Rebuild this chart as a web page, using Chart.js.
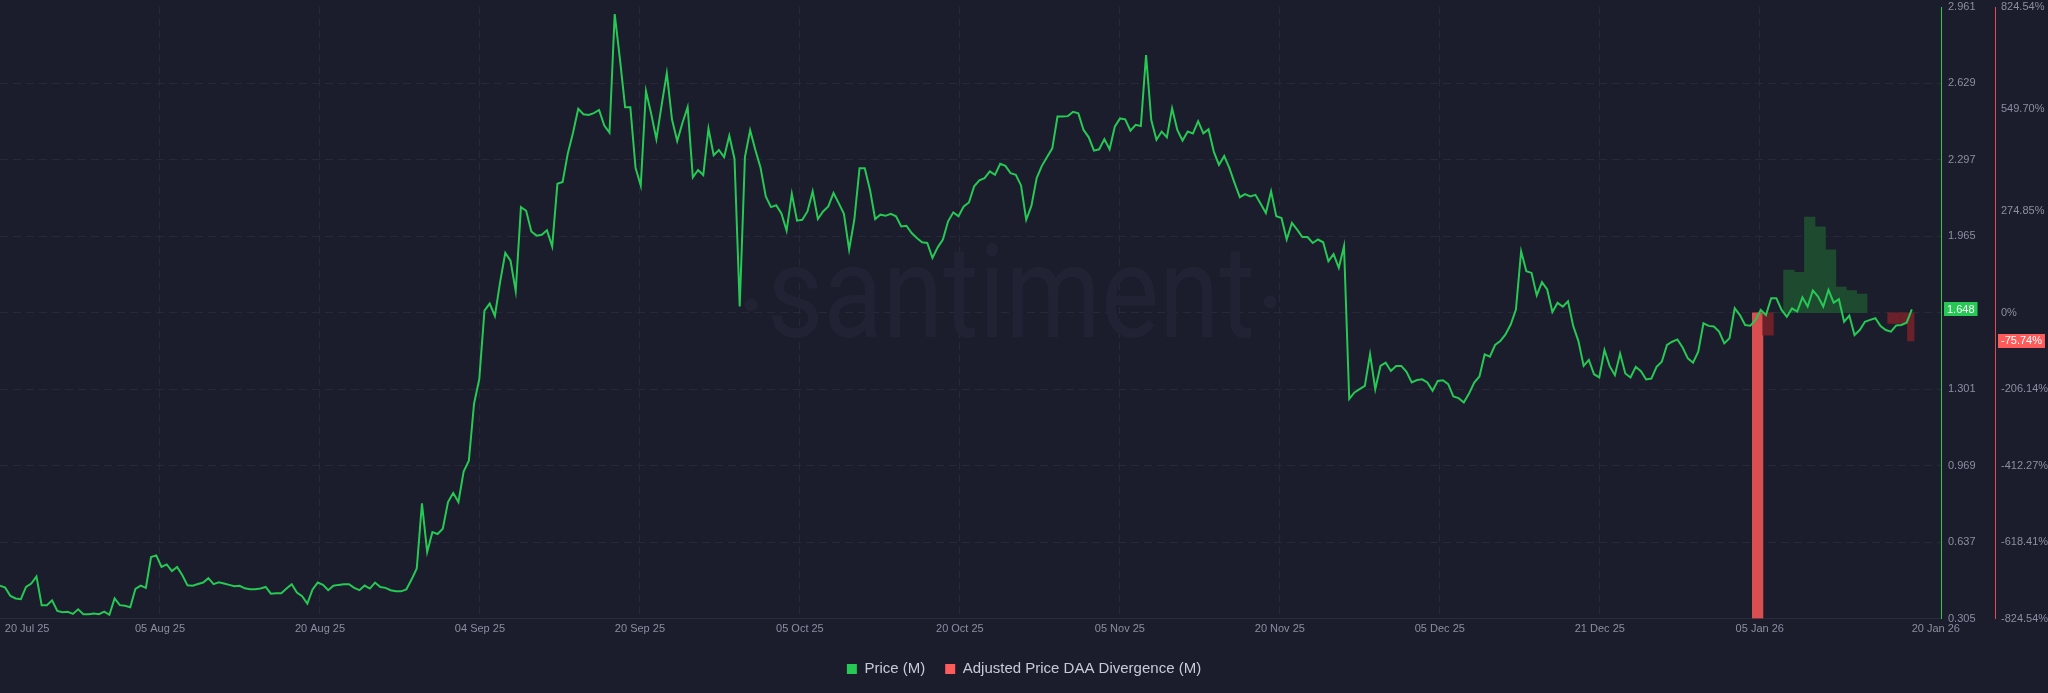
<!DOCTYPE html>
<html>
<head>
<meta charset="utf-8">
<script src="https://cdn.jsdelivr.net/npm/chart.js@4/dist/chart.umd.min.js"></script>
<style>
  html, body { margin: 0; padding: 0; background: #1b1c2c; }
  #wrap { width: 2048px; height: 693px; }
</style>
</head>
<body>
<div id="wrap"><canvas id="chart" width="2048" height="693"></canvas></div>
<script>
// Price (M), sampled every half day from the left edge of the chart
var priceStepDays = 0.5;
var priceValues = [
  0.447, 0.439, 0.403, 0.392, 0.389, 0.442, 0.457, 0.488, 0.363, 0.363,
  0.384, 0.338, 0.332, 0.334, 0.325, 0.345, 0.324, 0.324, 0.327, 0.324,
  0.335, 0.321, 0.392, 0.363, 0.360, 0.354, 0.434, 0.448, 0.438, 0.572,
  0.579, 0.529, 0.540, 0.511, 0.529, 0.493, 0.449, 0.447, 0.455, 0.461,
  0.480, 0.454, 0.462, 0.457, 0.451, 0.445, 0.447, 0.436, 0.432, 0.432,
  0.435, 0.442, 0.413, 0.415, 0.415, 0.435, 0.454, 0.418, 0.402, 0.370,
  0.431, 0.461, 0.451, 0.428, 0.447, 0.451, 0.454, 0.454, 0.438, 0.428,
  0.448, 0.435, 0.461, 0.442, 0.438, 0.428, 0.423, 0.423, 0.431, 0.474,
  0.522, 0.805, 0.594, 0.680, 0.672, 0.695, 0.811, 0.850, 0.811, 0.943,
  0.990, 1.238, 1.344, 1.642, 1.673, 1.619, 1.766, 1.893, 1.859, 1.727,
  2.092, 2.076, 1.986, 1.968, 1.972, 1.991, 1.921, 2.193, 2.201, 2.325,
  2.415, 2.519, 2.495, 2.492, 2.500, 2.514, 2.446, 2.415, 2.930, 2.736,
  2.526, 2.526, 2.263, 2.185, 2.596, 2.498, 2.387, 2.534, 2.674, 2.472,
  2.379, 2.457, 2.526, 2.221, 2.253, 2.231, 2.433, 2.317, 2.340, 2.309,
  2.402, 2.301, 1.660, 2.309, 2.426, 2.340, 2.263, 2.138, 2.092, 2.100,
  2.064, 1.990, 2.150, 2.033, 2.037, 2.073, 2.160, 2.040, 2.073, 2.095,
  2.153, 2.109, 2.063, 1.907, 2.037, 2.261, 2.261, 2.167, 2.040, 2.059,
  2.054, 2.063, 2.052, 2.008, 2.011, 1.979, 1.958, 1.939, 1.936, 1.871,
  1.917, 1.951, 2.030, 2.069, 2.052, 2.095, 2.112, 2.182, 2.208, 2.218,
  2.247, 2.232, 2.280, 2.271, 2.239, 2.232, 2.186, 2.037, 2.098, 2.218,
  2.271, 2.309, 2.347, 2.485, 2.485, 2.487, 2.506, 2.499, 2.427, 2.395,
  2.337, 2.343, 2.387, 2.343, 2.441, 2.477, 2.473, 2.424, 2.449, 2.444,
  2.752, 2.470, 2.384, 2.420, 2.395, 2.521, 2.427, 2.381, 2.420, 2.412,
  2.465, 2.412, 2.430, 2.333, 2.275, 2.314, 2.261, 2.196, 2.135, 2.148,
  2.138, 2.145, 2.106, 2.066, 2.160, 2.052, 2.044, 1.951, 2.023, 1.994,
  1.962, 1.962, 1.936, 1.951, 1.939, 1.857, 1.888, 1.828, 1.922, 1.258,
  1.287, 1.301, 1.315, 1.453, 1.301, 1.402, 1.416, 1.380, 1.402, 1.402,
  1.376, 1.330, 1.341, 1.344, 1.330, 1.294, 1.337, 1.340, 1.323, 1.269,
  1.262, 1.243, 1.282, 1.330, 1.356, 1.452, 1.442, 1.493, 1.510, 1.539,
  1.582, 1.647, 1.900, 1.813, 1.806, 1.708, 1.766, 1.734, 1.636, 1.676,
  1.659, 1.683, 1.575, 1.510, 1.402, 1.428, 1.366, 1.352, 1.471, 1.401,
  1.362, 1.456, 1.369, 1.352, 1.398, 1.379, 1.343, 1.347, 1.398, 1.420,
  1.493, 1.507, 1.517, 1.482, 1.435, 1.416, 1.464, 1.587, 1.576, 1.573,
  1.551, 1.500, 1.522, 1.653, 1.623, 1.580, 1.577, 1.602, 1.645, 1.623,
  1.696, 1.696, 1.645, 1.616, 1.652, 1.638, 1.700, 1.660, 1.730, 1.703,
  1.660, 1.732, 1.677, 1.692, 1.594, 1.621, 1.536, 1.558, 1.594, 1.602,
  1.609, 1.575, 1.558, 1.551, 1.578, 1.580, 1.590, 1.648
];

// Adjusted Price DAA Divergence (M), in %, daily bars
var divergenceDays = [168.7, 169.7, 170.7, 171.7, 172.7, 173.7, 174.7, 175.7, 176.7, 177.7, 178.7];
var divergenceValues = [-824.54, -60.4, 0, 115.3, 109.0, 257.7, 231.6, 169.4, 69.4, 59.5, 50.5];
// the last few bars come in tighter
var divergenceLateDays = [181.5, 182.1, 182.75, 183.4];
var divergenceLateValues = [-28.8, -28.5, -28.8, -75.74];

var xTickLabels = ['20 Jul 25', '05 Aug 25', '20 Aug 25', '04 Sep 25', '20 Sep 25', '05 Oct 25',
  '20 Oct 25', '05 Nov 25', '20 Nov 25', '05 Dec 25', '21 Dec 25', '05 Jan 26', '20 Jan 26'];
var priceTicks = [0.305, 0.637, 0.969, 1.301, 1.633, 1.965, 2.297, 2.629, 2.961];
var divergenceTicks = [-824.54, -618.41, -412.27, -206.14, 0, 274.85, 549.70, 824.54];

var BG = '#1b1c2c';
var GRID = '#272939';
var TICK = '#8b8fa1';
var GREEN = '#26c953';
var RED = '#ff5b5b';
var FONT = "'Liberation Sans', Arial, sans-serif";

var lastPrice = priceValues[priceValues.length - 1];
var lastDivergence = divergenceLateValues[divergenceLateValues.length - 1];

var xTickStep = 15.355;
var xMax = 186.3;

function barColor(ctx) {
    var v = ctx.raw ? ctx.raw.y : 0;
    if (v < -500) return '#d94f4f';
    if (v < 0) return '#6c2029';
    return '#1e4b2f';
}

// background + watermark
var backdrop = {
    id: 'backdrop',
    beforeDraw: function(chart) {
        var ctx = chart.ctx;
        ctx.save();
        ctx.fillStyle = BG;
        ctx.fillRect(0, 0, chart.width, chart.height);
        ctx.restore();
    },
    beforeDatasetsDraw: function(chart) {
        var ctx = chart.ctx;
        ctx.save();
        ctx.fillStyle = '#212335';
        ctx.font = "400 130px Roboto";
        ctx.textBaseline = 'alphabetic';
        var w = ctx.measureText('santiment').width;
        ctx.translate(767, 337);
        ctx.scale(488 / w, 1);
        ctx.fillText('santiment', 0, 0);
        ctx.setTransform(1, 0, 0, 1, 0, 0);
        ctx.beginPath();
        ctx.arc(751, 305, 6.5, 0, Math.PI * 2);
        ctx.arc(1270, 302, 6.5, 0, Math.PI * 2);
        ctx.fill();
        ctx.restore();
    }
};

// last value badges on the axes
function drawBadge(ctx, x, y, text, color) {
    ctx.font = '11px ' + FONT;
    var w = ctx.measureText(text).width + 6;
    ctx.fillStyle = color;
    ctx.fillRect(x, Math.round(y - 7), w, 14);
    ctx.fillStyle = '#ffffff';
    ctx.textBaseline = 'middle';
    ctx.textAlign = 'left';
    ctx.fillText(text, x + 3, y + 0.5);
}

var badges = {
    id: 'badges',
    afterDraw: function(chart) {
        var ctx = chart.ctx;
        var y = chart.scales.y, y2 = chart.scales.y2;
        ctx.save();
        drawBadge(ctx, y.left + 3, y.getPixelForValue(lastPrice), lastPrice.toFixed(3), GREEN);
        drawBadge(ctx, y2.left + 3, y2.getPixelForValue(lastDivergence), lastDivergence.toFixed(2) + '%', RED);
        ctx.restore();
    }
};

// keep the plot flush with the top: only half a label of room
function fitRightAxis(width) {
    return function(scale) {
        scale.width = width;
        scale.paddingTop = 7;
        scale.paddingBottom = 7;
    };
}

var ctx = document.getElementById('chart').getContext('2d');
var chart = new Chart(ctx, {
    type: 'line',
    data: {
        datasets: [{
            label: 'Price (M)',
            data: priceValues.map(function(v, i) { return { x: i * priceStepDays, y: v }; }),
            borderColor: GREEN,
            backgroundColor: GREEN,
            borderWidth: 2,
            pointRadius: 0,
            tension: 0,
            yAxisID: 'y',
            order: 0
        }, {
            type: 'bar',
            label: 'Adjusted Price DAA Divergence (M)',
            data: divergenceDays.map(function(d, i) { return { x: d, y: divergenceValues[i] }; }),
            backgroundColor: barColor,
            legendColor: RED,
            barThickness: 10.6,
            grouped: false,
            yAxisID: 'y2',
            order: 1
        }, {
            type: 'bar',
            label: 'late',
            data: divergenceLateDays.map(function(d, i) { return { x: d, y: divergenceLateValues[i] }; }),
            backgroundColor: barColor,
            barThickness: 6.6,
            grouped: false,
            yAxisID: 'y2',
            order: 2
        }]
    },
    options: {
        responsive: false,
        animation: false,
        devicePixelRatio: 1,
        layout: { padding: { top: 0, left: 0, right: 0, bottom: 6.5 } },
        plugins: {
            tooltip: { enabled: false },
            legend: {
                position: 'bottom',
                labels: {
                    color: '#c8cbd5',
                    font: { family: FONT, size: 15 },
                    boxWidth: 10,
                    boxHeight: 10,
                    padding: 20,
                    filter: function(item) { return item.text !== 'late'; },
                    generateLabels: function(chart) {
                        var items = Chart.defaults.plugins.legend.labels.generateLabels(chart);
                        items.forEach(function(it) {
                            var ds = chart.data.datasets[it.datasetIndex];
                            if (ds.legendColor) it.fillStyle = ds.legendColor;
                            it.lineWidth = 0;
                            it.strokeStyle = 'transparent';
                        });
                        return items;
                    }
                }
            }
        },
        scales: {
            x: {
                type: 'linear',
                min: 0,
                max: xMax,
                offset: false,
                afterBuildTicks: function(scale) {
                    scale.ticks = xTickLabels.map(function(_, k) {
                        var v = k * xTickStep;
                        if (k === 0) v = 2.6;
                        if (k === xTickLabels.length - 1) v = 185.8;
                        return { value: v };
                    });
                },
                afterFit: function(scale) { scale.height = 23; },
                ticks: {
                    autoSkip: false,
                    maxRotation: 0,
                    padding: 4,
                    color: TICK,
                    font: { family: FONT, size: 11 },
                    callback: function(v, i) { return xTickLabels[i]; }
                },
                grid: {
                    offset: false,
                    drawTicks: false,
                    color: function(c) {
                        return (c.index === 0 || c.index === xTickLabels.length - 1) ? 'transparent' : GRID;
                    }
                },
                border: { color: '#2a2c3e', dash: [7, 5] }
            },
            y: {
                position: 'right',
                weight: 0,
                min: priceTicks[0],
                max: priceTicks[priceTicks.length - 1],
                afterBuildTicks: function(scale) {
                    scale.ticks = priceTicks.map(function(v) { return { value: v }; });
                },
                afterFit: fitRightAxis(54),
                ticks: {
                    padding: 7,
                    color: TICK,
                    font: { family: FONT, size: 11 },
                    callback: function(v) {
                        return Math.abs(v - lastPrice) < 0.04 ? '' : v.toFixed(3);
                    }
                },
                grid: {
                    drawTicks: false,
                    color: function(c) {
                        return (c.index === 0 || c.index === priceTicks.length - 1) ? 'transparent' : GRID;
                    }
                },
                border: { color: GREEN, width: 1, dash: [8, 5] }
            },
            y2: {
                position: 'right',
                weight: 1,
                min: divergenceTicks[0],
                max: divergenceTicks[divergenceTicks.length - 1],
                afterBuildTicks: function(scale) {
                    scale.ticks = divergenceTicks.map(function(v) { return { value: v }; });
                },
                afterFit: fitRightAxis(53),
                ticks: {
                    padding: 6,
                    color: TICK,
                    font: { family: FONT, size: 11 },
                    callback: function(v) { return v === 0 ? '0%' : v.toFixed(2) + '%'; }
                },
                grid: { display: false, drawTicks: false },
                border: { color: '#e04b4b', width: 1 }
            }
        }
    },
    plugins: [backdrop, badges]
});
</script>
</body>
</html>
